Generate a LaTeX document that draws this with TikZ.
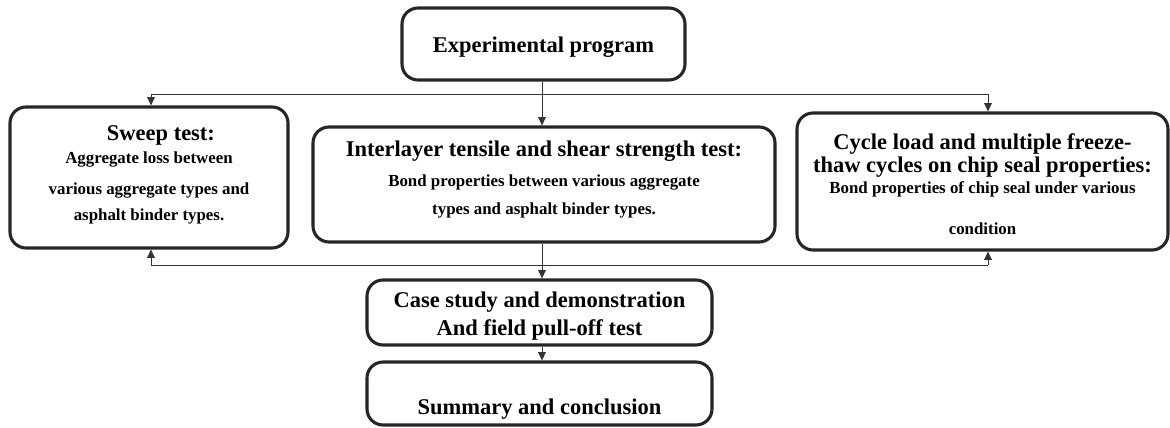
\documentclass[tikz,border=0pt]{standalone}
\usepackage{fontspec}
\setmainfont{Liberation Serif}
\usetikzlibrary{arrows.meta}

\newcommand{\headtxt}[1]{{\fontsize{16}{16}\selectfont #1}}

\begin{document}
\begin{tikzpicture}
  [box/.style={draw=black!85,line width=2.2pt,rounded corners=0.4cm,align=center,
     inner sep=0pt,font=\bfseries\fontsize{12}{16}\selectfont},
   link/.style={draw=black!80,line width=0.7pt},
   arrow/.style={link,-{Triangle[length=6pt,width=5.5pt]}}]
  \useasboundingbox (0,0) rectangle (29.25,10.675);

  \node (exp) at (13.5875,9.575) [box,minimum width=7.075cm,minimum height=1.8cm]
    {\headtxt{\rule{0pt}{15pt}Experimental program}};

  \node (sweep) at (3.725,6.2375) [box,minimum width=6.95cm,minimum height=3.525cm]
    {\headtxt{\hspace*{17pt}Sweep test:}\\[0.4pt]
     Aggregate loss between\\[6pt]
     various aggregate types and\\[2.5pt]
     asphalt binder types.\rule[-6.3pt]{0pt}{0pt}};
  \node (inter) at (13.6,6.0625) [box,minimum width=11.55cm,minimum height=2.875cm]
    {\headtxt{Interlayer tensile and shear strength test:}\\[5.3pt]
     Bond properties between various aggregate\\[4pt]
     types and asphalt binder types.\rule[-9.2pt]{0pt}{0pt}};
  \node (cycle) at (24.5625,6.1375) [box,minimum width=9.275cm,minimum height=3.425cm]
    {\headtxt{\rule{0pt}{15.3pt}Cycle load and multiple freeze-}\\[0.4pt]
     \headtxt{thaw cycles on chip seal properties:}\\[-1.1pt]
     Bond properties of chip seal under various\\[13.2pt]
     condition};

  \node (case) at (13.4875,2.8625) [box,minimum width=8.625cm,minimum height=1.625cm]
    {\headtxt{\rule{0pt}{16pt}Case study and demonstration}\\[4pt]
     \headtxt{And field pull-off test}};
  \node (summary) at (13.4875,0.8375) [box,minimum width=8.625cm,minimum height=1.575cm]
    {\headtxt{\rule{0pt}{34pt}Summary and conclusion}};

  % branching lines
  \coordinate (fork) at (13.55,8.325);
  \coordinate (forkL) at (3.775,8.325);
  \coordinate (forkR) at (24.7,8.325);
  \coordinate (join) at (13.55,4.05);
  \coordinate (joinL) at (3.775,4.05);
  \coordinate (joinR) at (24.7,4.05);

  \draw [link] (exp.south -| fork) -- (fork);
  \draw [link] (forkL) -- (forkR);
  \draw [arrow] (fork) -- (inter.north -| fork);
  \draw [arrow] (forkL) -- (sweep.north -| forkL);
  \draw [arrow] (forkR) -- (cycle.north -| forkR);

  \draw [arrow] (inter.south -| join) -- (case.north -| join);
  \draw [link] (joinL) -- (joinR);
  \draw [arrow] (joinL) -- (sweep.south -| joinL);
  \draw [arrow] (joinR) -- (cycle.south -| joinR);
  \draw [arrow] (case.south -| join) -- (summary.north -| join);
\end{tikzpicture}
\end{document}
